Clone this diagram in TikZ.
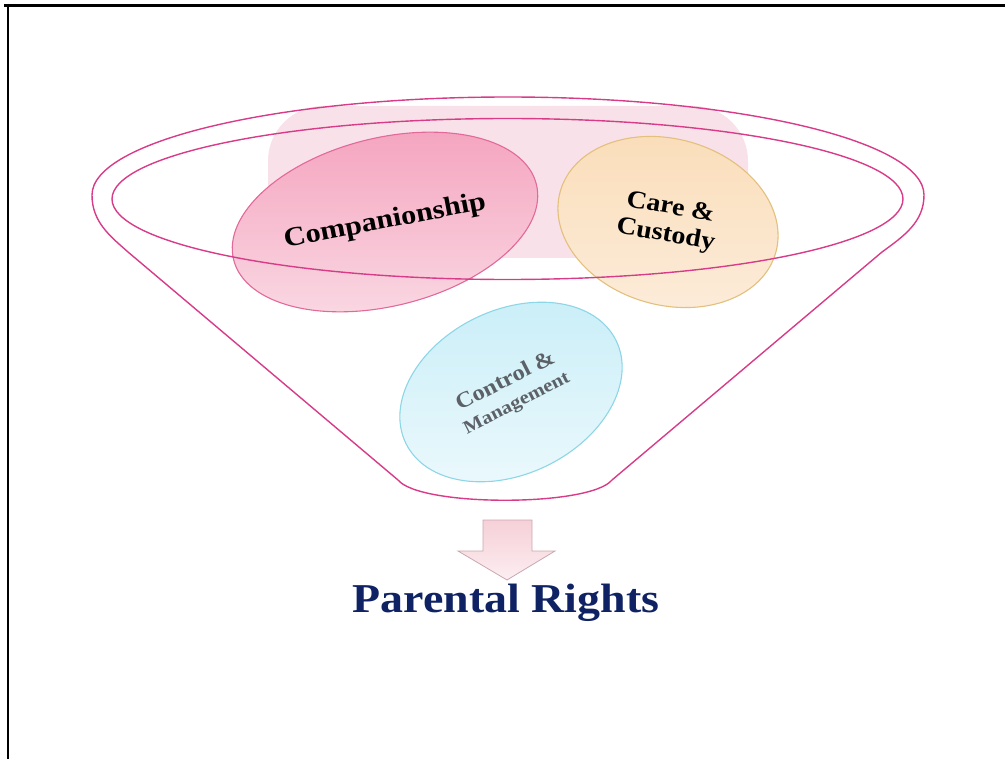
\documentclass[tikz,border=0pt]{standalone}
\usepackage{fontspec}
\newfontfamily\gfont[FakeStretch=1.12]{Liberation Serif}
\usetikzlibrary{shapes.geometric}
\definecolor{funnelc}{HTML}{D83C88}
\definecolor{blobc}{HTML}{F9E1E9}
\definecolor{compB}{HTML}{E2699A}
\definecolor{compT}{HTML}{F4A2BD}
\definecolor{compM}{HTML}{F088AA}
\definecolor{compL}{HTML}{FADAE4}
\definecolor{careB}{HTML}{E3C07E}
\definecolor{careT}{HTML}{FADDB8}
\definecolor{careM}{HTML}{F8C887}
\definecolor{careL}{HTML}{FCEBD8}
\definecolor{ctrlB}{HTML}{8DD6E6}
\definecolor{ctrlT}{HTML}{C9EEF8}
\definecolor{ctrlM}{HTML}{C4ECF7}
\definecolor{ctrlL}{HTML}{ECF9FC}
\definecolor{ctrlText}{HTML}{5B6166}
\definecolor{navy}{HTML}{0F2263}
\definecolor{arrT}{HTML}{F6D0D8}
\definecolor{arrL}{HTML}{FCEEF1}
\definecolor{arrB}{HTML}{C9A8B0}
\tikzset{
  bubble/.style={ellipse, draw, inner sep=0pt, line width=1.1pt},
  funnelline/.style={draw=funnelc, line width=1.4pt},
  label/.style={font=\gfont\bfseries, inner sep=0pt, align=center},
  frame/.style={line width=2.8pt, black}
}
\begin{document}
\begin{tikzpicture}[x=1pt,y=-1pt]
\useasboundingbox (0,0) rectangle (1005,759);
% frame
\draw[frame] (4,5.3) -- (1005,5.3);
\draw[frame] (8,4) -- (8,759);
% background blob
\fill[blobc, rounded corners=55pt] (268,106) rectangle (748,258);
% bubbles
\node[bubble, draw=compB, minimum width=312pt, minimum height=168pt, rotate=14,
      top color=compT, middle color=compM, bottom color=compL] (comp) at (385,222) {};
\node[bubble, draw=careB, minimum width=224pt, minimum height=166pt, rotate=-16,
      top color=careT, middle color=careM, bottom color=careL] (care) at (668,222) {};
\node[bubble, draw=ctrlB, minimum width=234pt, minimum height=164pt, rotate=26,
      top color=ctrlT, middle color=ctrlM, bottom color=ctrlL] (ctrl) at (511,392) {};
% funnel
\node[ellipse, funnelline, inner sep=0pt, minimum width=791pt, minimum height=161pt] (rim) at (507.5,199) {};
\draw[funnelline] (92,195) .. controls (92,141) and (278,97) .. (508,97)
  .. controls (738,97) and (924,141) .. (924,195)
  .. controls (924,222) and (904,236) .. (882,252)
  -- (612,480) .. controls (590,507) and (420,507) .. (398,480)
  -- (128,252) .. controls (110,236) and (92,222) .. (92,195) -- cycle;
% labels
\node[label, rotate=11, font=\gfont\bfseries\fontsize{27}{30}\selectfont] (tcomp) at (comp.center) {Companionship};
\node[label, rotate=-10, font=\gfont\bfseries\fontsize{25}{28}\selectfont] (tcare) at (care.center) {Care \&\\Custody};
\node[label, rotate=27, text=ctrlText, font=\gfont\bfseries\fontsize{22}{24}\selectfont] (tctrl) at (ctrl.center)
  {Control \&\\{\fontsize{18.5}{24}\selectfont Management}};
% arrow
\shade[top color=arrT, bottom color=arrL, draw=arrB, line width=0.8pt]
  (483,520) -- (532,520) -- (532,551) -- (555,551) -- (507,580) -- (458,551) -- (483,551) -- cycle;
\node[label, anchor=base, text=navy, font=\gfont\bfseries\fontsize{41}{45}\selectfont] (rights) at (506,612) {Parental Rights};
\end{tikzpicture}
\end{document}
